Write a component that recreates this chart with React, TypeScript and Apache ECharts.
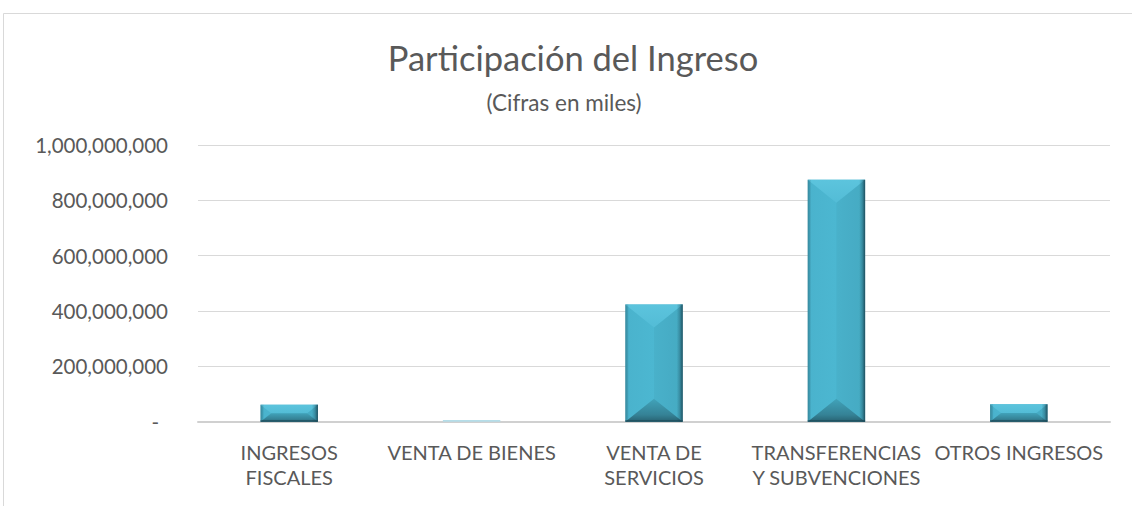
import React, { useEffect, useRef } from "react";
import * as echarts from "echarts";

const categories = [
  "INGRESOS\nFISCALES",
  "VENTA DE BIENES",
  "VENTA DE\nSERVICIOS",
  "TRANSFERENCIAS\nY SUBVENCIONES",
  "OTROS INGRESOS",
];
const values = [61500000, 4000000, 424000000, 874000000, 63000000];
const yTicks = { min: 0, max: 1000000000, interval: 200000000 };

const FONT = "Lato, 'Open Sans', sans-serif";
const TXT = "#595959";

function fmt(v: number): string {
  if (v === 0) return "{z|-}";
  return v.toLocaleString("en-US");
}

export default function App() {
  const ref = useRef<HTMLDivElement>(null);
  useEffect(() => {
    if (!ref.current) return;
    const chart = echarts.init(ref.current, undefined, { renderer: "svg" });
    const renderItem = (params: any, api: any) => {
      const idx = api.value(0);
      const v = api.value(1);
      const top = api.coord([idx, v]);
      const base = api.coord([idx, 0]);
      const bw = api.size([1, 0])[0] * 0.315;
      const x0 = top[0] - bw / 2;
      const x1 = x0 + bw;
      const y0 = top[1];
      const y1 = base[1];
      const h = y1 - y0;
      if (h <= 0) return null;
      if (h < 2.5) {
        return {
          type: "rect",
          shape: { x: x0, y: y0 - 0.5, width: bw, height: h + 0.5 },
          style: { fill: "#b5dde8" },
        };
      }
      const b = Math.min(23, h / 2);
      const ix = Math.min(bw / 2, b * 1.26);
      const lin = (x: number, y: number, x2: number, y2: number, stops: [number, string][]) =>
        new echarts.graphic.LinearGradient(
          x, y, x2, y2,
          stops.map(([offset, color]) => ({ offset, color }))
        );
      return {
        type: "group",
        children: [
          {
            type: "rect",
            shape: { x: x0, y: y0, width: bw, height: h },
            style: {
              fill: lin(0, 0, 1, 0, [
                [0, "#3a93aa"],
                [0.05, "#4ab3cd"],
                [0.5, "#4cb7d1"],
                [1, "#48afc9"],
              ]),
            },
          },
          {
            type: "polygon",
            shape: {
              points: [
                [x0, y0],
                [x1, y0],
                [x1 - ix, y0 + b],
                [x0 + ix, y0 + b],
              ],
            },
            style: {
              fill: lin(0, 0, 0, 1, [
                [0, "#5cc4dd"],
                [1, "#53bcd6"],
              ]),
            },
          },
          {
            type: "polygon",
            shape: {
              points: [
                [x1, y0],
                [x1 - ix, y0 + b],
                [x1 - ix, y1 - b],
                [x1, y1],
              ],
            },
            style: { fill: "rgba(20,70,85,0.05)" },
          },
          {
            type: "polygon",
            shape: {
              points: [
                [x0, y1],
                [x1, y1],
                [x1 - ix, y1 - b],
                [x0 + ix, y1 - b],
              ],
            },
            style: {
              fill: lin(0, 0, 0, 1, [
                [0, "#41a3ba"],
                [0.7, "#358296"],
                [1, "#286271"],
              ]),
            },
          },
          {
            type: "rect",
            shape: { x: x1 - 6, y: y0, width: 6, height: h },
            style: {
              fill: lin(0, 0, 1, 0, [
                [0, "rgba(25,70,85,0)"],
                [0.5, "rgba(25,70,85,0.3)"],
                [1, "rgba(20,55,68,0.8)"],
              ]),
            },
          },
          {
            type: "rect",
            shape: { x: x0, y: y0, width: 3, height: h },
            style: { fill: "rgba(30,80,95,0.16)" },
          },
          {
            type: "rect",
            shape: { x: x0, y: y1 - 1.5, width: bw, height: 1.5 },
            style: { fill: "rgba(25,65,78,0.65)" },
          },
        ],
      };
    };

    chart.setOption({
      animation: false,
      backgroundColor: "#ffffff",
      textStyle: { fontFamily: FONT },
      title: [
        {
          text: "Participación del Ingreso",
          left: 568,
          top: 35,
          textAlign: "center",
          textStyle: { fontFamily: FONT, fontSize: 34.5, fontWeight: "normal", color: TXT },
        },
        {
          text: "(Cifras en miles)",
          left: 559,
          top: 86,
          textAlign: "center",
          textStyle: { fontFamily: FONT, fontSize: 22.5, fontWeight: "normal", color: TXT },
        },
      ],
      graphic: [
        {
          type: "rect",
          shape: { x: 3.5, y: 13.5, width: 1300, height: 700 },
          style: { fill: "none", stroke: "#d9d9d9", lineWidth: 1 },
          silent: true,
          z: -1,
        },
      ],
      grid: { left: 198, right: 22, top: 145, bottom: 84.3, containLabel: false },
      xAxis: {
        type: "category",
        data: categories,
        axisLine: { show: true, lineStyle: { color: "#d0d0d0", width: 2 } },
        axisTick: { show: false },
        axisLabel: {
          interval: 0,
          color: TXT,
          fontFamily: FONT,
          fontSize: 20,
          lineHeight: 25,
          margin: 18,
          align: "center",
        },
        splitLine: { show: false },
      },
      yAxis: {
        type: "value",
        min: yTicks.min,
        max: yTicks.max,
        interval: yTicks.interval,
        axisLine: { show: false },
        axisTick: { show: false },
        axisLabel: {
          color: TXT,
          fontFamily: FONT,
          fontSize: 20.5,
          margin: 30,
          formatter: fmt,
          rich: {
            z: { color: TXT, fontFamily: FONT, fontSize: 20.5, padding: [0, 9, 0, 0] },
          },
        },
        splitLine: { show: true, lineStyle: { color: "#d9d9d9", width: 1 } },
      },
      series: [
        {
          type: "custom",
          renderItem,
          data: values.map((v, i) => [i, v]),
          encode: { x: 0, y: 1 },
          clip: false,
        },
      ],
    });
    return () => chart.dispose();
  }, []);
  return (
    <div
      ref={ref}
      style={{ position: "fixed", left: 0, top: 0, width: 1132, height: 506 }}
    />
  );
}
